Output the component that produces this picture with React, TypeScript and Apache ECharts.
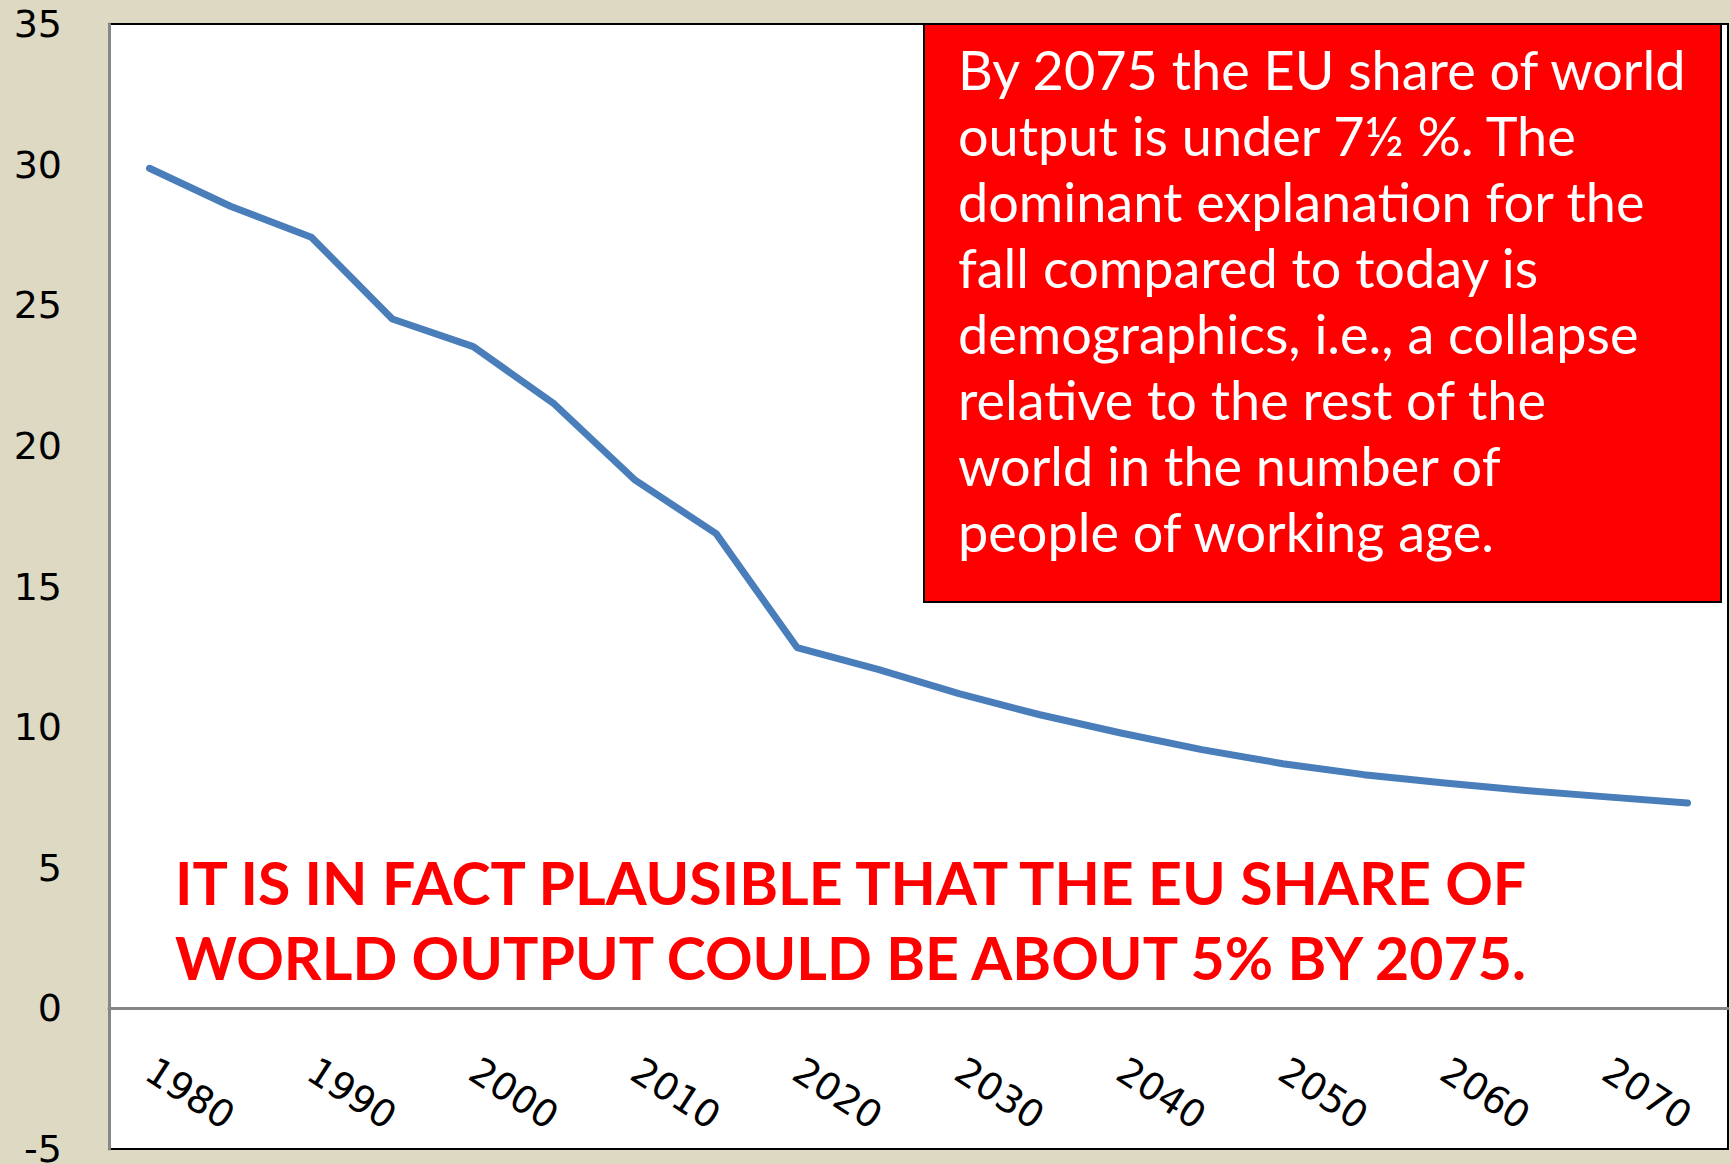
import React, { useEffect, useRef } from 'react';
import * as echarts from 'echarts';

const years = ['1980', '1985', '1990', '1995', '2000', '2005', '2010', '2015', '2020', '2025', '2030', '2035', '2040', '2045', '2050', '2055', '2060', '2065', '2070', '2075'];
const euShare = [29.87, 28.52, 27.42, 24.51, 23.53, 21.49, 18.78, 16.88, 12.83, 12.05, 11.19, 10.44, 9.79, 9.2, 8.7, 8.31, 8.01, 7.75, 7.52, 7.3];
const yMin = -5;
const yMax = 35;
const yStep = 5;

const boxLines = [
  'By 2075 the EU share of world',
  'output is under 7½ %. The',
  'dominant explanation for the',
  'fall compared to today is',
  'demographics, i.e., a collapse',
  'relative to the rest of the',
  'world in the number of',
  'people of working age.',
];
const noteLines = [
  'IT IS IN FACT PLAUSIBLE THAT THE EU SHARE OF',
  'WORLD OUTPUT COULD BE ABOUT 5% BY 2075.',
];

export default function App() {
  const ref = useRef<HTMLDivElement>(null);
  useEffect(() => {
    document.body.style.margin = '0';
    const chart = echarts.init(ref.current!, null, { renderer: 'svg' });
    chart.setOption({
      animation: false,
      backgroundColor: '#DDD9C3',
      grid: {
        left: 109, top: 24, right: 3, bottom: 15,
        containLabel: false, outerBoundsMode: 'none',
        show: true, backgroundColor: '#FFFFFF', borderColor: '#000000', borderWidth: 2,
      },
      xAxis: {
        type: 'category',
        data: years,
        boundaryGap: true,
        axisLine: { onZero: true, lineStyle: { color: '#878787', width: 3 } },
        axisTick: { show: false },
        axisLabel: { interval: 1, rotate: -33, margin: -82, fontFamily: 'DejaVu Sans', fontSize: 38, color: '#000' },
        splitLine: { show: false },
      },
      yAxis: {
        type: 'value',
        min: yMin, max: yMax, interval: yStep,
        axisLine: { show: true, onZero: false, lineStyle: { color: '#878787', width: 3 } },
        axisTick: { show: false },
        axisLabel: { margin: 47, fontFamily: 'DejaVu Sans', fontSize: 38, color: '#000' },
        splitLine: { show: false },
      },
      series: [{
        type: 'line',
        data: euShare,
        symbol: 'none',
        lineStyle: { color: '#4A7EBB', width: 7, cap: 'round', join: 'round' },
      }],
      graphic: [
        {
          type: 'rect', z: 100,
          shape: { x: 924, y: 24, width: 797, height: 578 },
          style: { fill: '#FF0000', stroke: '#000000', lineWidth: 2 },
        },
        {
          type: 'text', z: 101, x: 958, y: 36,
          style: { text: boxLines.join('\n'), fill: '#FFFFFF', fontFamily: 'Lato', fontSize: 54, lineHeight: 66 },
        },
        {
          type: 'text', z: 101, x: 175, y: 845,
          style: { text: noteLines.join('\n'), fill: '#FF0000', fontFamily: 'Lato', fontWeight: 'bold', fontSize: 59, lineHeight: 75 },
        },
      ],
    });
    return () => chart.dispose();
  }, []);
  return <div ref={ref} style={{ position: 'absolute', left: 0, top: 0, width: 1731, height: 1164 }} />;
}
